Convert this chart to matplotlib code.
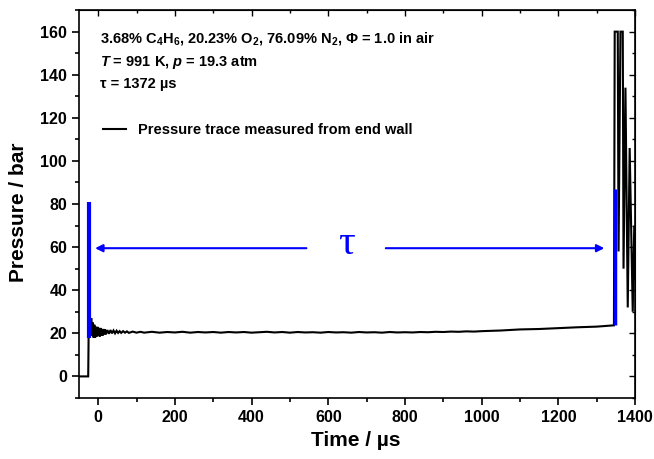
import matplotlib
matplotlib.use("Agg")
import matplotlib.pyplot as plt
from matplotlib.ticker import MultipleLocator

plt.rcParams['font.family'] = ['Liberation Sans', 'DejaVu Sans']
plt.rcParams['mathtext.fontset'] = 'custom'
plt.rcParams['mathtext.rm'] = 'Liberation Sans:bold'
plt.rcParams['mathtext.it'] = 'Liberation Sans:bold:italic'
plt.rcParams['mathtext.bf'] = 'Liberation Sans:bold'

# End-wall pressure trace (time in microseconds, pressure in bar)
time_pre = [-50, -26]
p_pre = [0, 0]

time_rise = [-25, -22, -20, -18, -16, -14, -12, -10, -8, -6, -4, -2, 0, 2, 4, 6, 8,
             10, 12, 14, 16, 18, 20, 24, 28, 32, 36, 40, 44, 48, 52, 56, 60, 65,
             70, 75, 80, 90, 100, 110, 120]
p_rise = [18, 29, 22, 27, 19, 25, 18, 24, 18, 23, 18.5, 23, 19, 22.5, 18.5, 22.5, 19,
          22, 19, 22, 19.5, 21.8, 19.5, 21.5, 19.8, 21.5, 20, 21.3, 20, 21.2, 20.2, 21,
          20.2, 21, 20.3, 20.9, 20.2, 20.8, 20.3, 20.7, 20.3]

time_flat = [140, 160, 180, 200, 220, 240, 260, 280, 300, 320, 340, 360, 380, 400,
             420, 440, 460, 480, 500, 520, 540, 560, 580, 600, 620, 640, 660, 680,
             700, 720, 740, 760, 780, 800, 820, 840, 860, 880, 900, 920, 940, 960,
             980, 1000, 1050, 1100, 1150, 1200, 1250, 1300, 1345]
p_flat = [20.7, 20.3, 20.6, 20.4, 20.7, 20.3, 20.6, 20.4, 20.6, 20.3, 20.6, 20.4,
          20.6, 20.3, 20.5, 20.7, 20.4, 20.6, 20.3, 20.6, 20.4, 20.5, 20.3, 20.6,
          20.4, 20.5, 20.3, 20.6, 20.4, 20.5, 20.3, 20.6, 20.4, 20.5, 20.4, 20.6,
          20.5, 20.7, 20.6, 20.8, 20.7, 20.9, 20.8, 21.0, 21.3, 21.8, 22.0, 22.4,
          22.8, 23.1, 23.7]

time_ign = [1347, 1355, 1357, 1362, 1368, 1370, 1375, 1381, 1386, 1394, 1398, 1401]
p_ign = [160, 160, 58, 160, 160, 50, 134, 32, 106, 30, 70, 45]

# Markers bracketing the ignition delay time
tau_start = -24
tau_start_range = [18, 81]
tau_end = 1347
tau_end_range = [23.7, 87]
tau_arrow_p = 59.5

fig = plt.figure(figsize=(6.54, 4.59), dpi=100)
ax = fig.add_axes([0.1208, 0.133, 0.8502, 0.845])

t_all = time_pre + time_rise + time_flat + time_ign
p_all = p_pre + p_rise + p_flat + p_ign
ax.plot(t_all, p_all, color='black', lw=1.5, solid_joinstyle='miter',
        label='Pressure trace measured from end wall')

ax.plot([tau_start, tau_start], tau_start_range, color='#0000ff', lw=3, solid_capstyle='butt')
ax.plot([tau_end, tau_end], tau_end_range, color='#0000ff', lw=2.5, solid_capstyle='butt')

arrow = dict(arrowstyle='-|>', color='#0000ff', lw=1.5, mutation_scale=11,
             shrinkA=0, shrinkB=0)
ax.annotate('', xy=(-8, tau_arrow_p), xytext=(543, tau_arrow_p), arrowprops=arrow)
ax.annotate('', xy=(1320, tau_arrow_p), xytext=(750, tau_arrow_p), arrowprops=arrow)
ax.text(648, 61.5, 'τ', color='#0000ff', fontsize=30, family='Liberation Serif',
        ha='center', va='center')

ax.set_xlim(-50, 1400)
ax.set_ylim(-10, 170)
ax.xaxis.set_major_locator(MultipleLocator(200))
ax.xaxis.set_minor_locator(MultipleLocator(100))
ax.yaxis.set_major_locator(MultipleLocator(20))
ax.yaxis.set_minor_locator(MultipleLocator(10))
ax.tick_params(which='both', direction='out', width=1.2, labelsize=11.5)
ax.tick_params(which='major', length=5)
ax.tick_params(which='minor', length=3)
for lab in ax.get_xticklabels() + ax.get_yticklabels():
    lab.set_fontweight('bold')
for s in ax.spines.values():
    s.set_linewidth(1.2)

# Unlabelled inward ticks on the top and right edges
axt = ax.secondary_xaxis('top')
axt.xaxis.set_major_locator(MultipleLocator(200))
axt.xaxis.set_minor_locator(MultipleLocator(100))
axt.tick_params(which='both', direction='in', labeltop=False, width=1.0)
axt.tick_params(which='major', length=4)
axt.tick_params(which='minor', length=2.5)
axr = ax.secondary_yaxis('right')
axr.yaxis.set_major_locator(MultipleLocator(20))
axr.yaxis.set_minor_locator(MultipleLocator(10))
axr.tick_params(which='both', direction='in', labelright=False, width=1.0)
axr.tick_params(which='major', length=4)
axr.tick_params(which='minor', length=2.5)

ax.set_xlabel('Time / µs', fontsize=15, fontweight='bold')
ax.set_ylabel('Pressure / bar', fontsize=15, fontweight='bold')
ax.xaxis.set_label_coords(0.498, -0.085)
ax.yaxis.set_label_coords(-0.092, 0.479)

tx = 0.038
ax.text(tx, 0.9175,
        r'3.68% C$_4$H$_6$, 20.23% O$_2$, 76.09% N$_2$, Φ = 1.0 in air',
        transform=ax.transAxes, fontsize=10.5, fontweight='bold', va='baseline')
ax.text(tx, 0.855, r'$T$ = 991 K, $p$ = 19.3 atm',
        transform=ax.transAxes, fontsize=10.5, fontweight='bold', va='baseline')
ax.text(tx, 0.799, 'τ = 1372 µs',
        transform=ax.transAxes, fontsize=10.5, fontweight='bold', va='baseline')

leg = ax.legend(loc='center left', bbox_to_anchor=(0.043, 0.691), frameon=False,
                handlelength=1.55, handletextpad=0.85, borderaxespad=0, borderpad=0,
                prop={'weight': 'bold', 'size': 10.5})

fig.savefig('out.png', dpi=100)
